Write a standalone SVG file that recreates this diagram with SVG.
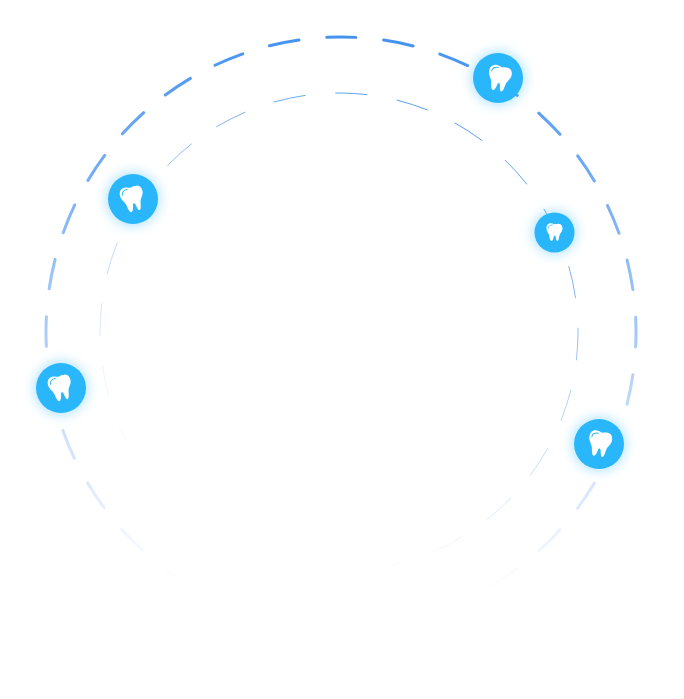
<svg xmlns="http://www.w3.org/2000/svg" width="684" height="699" viewBox="0 0 684 699">
<style>
.ring{fill:none;stroke-linecap:round}
.disc{fill:#29b6fb}
.glow{fill:#29b6fb;opacity:.36;filter:url(#blur)}
.t{fill:#fff}
.h{fill:none;stroke:#29b6fb;stroke-width:1;stroke-linecap:round}
</style>
<defs>
<linearGradient id="fadeOuter" gradientUnits="userSpaceOnUse" x1="350" y1="37" x2="330" y2="590">
<stop offset="0" stop-color="#4593f0"/>
<stop offset=".3" stop-color="#7eb1f5"/>
<stop offset=".41" stop-color="#93bff6"/>
<stop offset=".53" stop-color="#a6caf8"/>
<stop offset=".64" stop-color="#bfd8f9"/>
<stop offset=".74" stop-color="#cfe1fb"/>
<stop offset=".83" stop-color="#deeafc"/>
<stop offset=".9" stop-color="#eef4fe"/>
<stop offset=".97" stop-color="#fcfdff"/>
<stop offset="1" stop-color="#fff"/>
</linearGradient>
<linearGradient id="fadeInner" gradientUnits="userSpaceOnUse" x1="420" y1="80" x2="200" y2="560">
<stop offset="0" stop-color="#4f9af1"/>
<stop offset=".3" stop-color="#8cbcf5"/>
<stop offset=".42" stop-color="#b6d2f9"/>
<stop offset=".55" stop-color="#c5dbfa"/>
<stop offset=".67" stop-color="#dbe8fc"/>
<stop offset=".76" stop-color="#f0f4fd"/>
<stop offset=".84" stop-color="#f8fafe"/>
<stop offset=".88" stop-color="#fff"/>
</linearGradient>
<filter id="blur" x="-50%" y="-50%" width="200%" height="200%"><feGaussianBlur stdDeviation="6"/></filter>
<g id="tooth">
<path class="t" d="M-5.5,-12.5C-3,-12.5-1.5,-11.5 .5,-11C3,-11.5 5,-12 7,-11.5C10.5,-11 11.5,-7.5 11.5,-5C11.5,-1 8,1.5 7,5C6.5,8 6,12.5 4,13C2.5,13 2,9 1.5,6.5C1,5 0,4.5-1,6C-1.5,9-2.5,13-4.5,13C-6.5,12.5-7,8-7.5,5C-8.5,1-11.5,-1-11.5,-5.5C-11.5,-10-9,-12.5-5.5,-12.5Z"/>
<path class="h" d="M-9,-5.5C-9,-8.5-6.5,-10.5-3,-10"/>
</g>
</defs>
<g id="connectors">
<path class="ring" stroke="url(#fadeOuter)" stroke-width="3" stroke-dasharray="30 27.92" stroke-dashoffset="15" d="M341,37A295,295 0 1 1 341,627A295,295 0 1 1 341,37Z"/>
<path class="ring" stroke="url(#fadeInner)" stroke-width="1" stroke-dasharray="32 30.57" stroke-dashoffset="4" d="M339,93A239,239 0 1 1 339,571A239,239 0 1 1 339,93Z"/>
</g>
<g id="node-1"><circle class="glow" cx="498" cy="78" r="27"/><circle class="disc" cx="498" cy="78" r="25"/><use href="#tooth" transform="translate(499.5,78) rotate(10)"/></g>
<g id="node-2"><circle class="glow" cx="133" cy="199" r="27"/><circle class="disc" cx="133" cy="199" r="25"/><use href="#tooth" transform="translate(132.5,198.5) rotate(-14)"/></g>
<g id="node-3"><circle class="glow" cx="554.5" cy="232.5" r="22"/><circle class="disc" cx="554.5" cy="232.5" r="20"/><use href="#tooth" transform="translate(554.5,232) scale(.7)"/></g>
<g id="node-4"><circle class="glow" cx="61" cy="388" r="27"/><circle class="disc" cx="61" cy="388" r="25"/><use href="#tooth" transform="translate(60.5,387.5) rotate(-14)"/></g>
<g id="node-5"><circle class="glow" cx="599" cy="444" r="27"/><circle class="disc" cx="599" cy="444" r="25"/><use href="#tooth" transform="translate(600,443.5) rotate(8)"/></g>
</svg>
